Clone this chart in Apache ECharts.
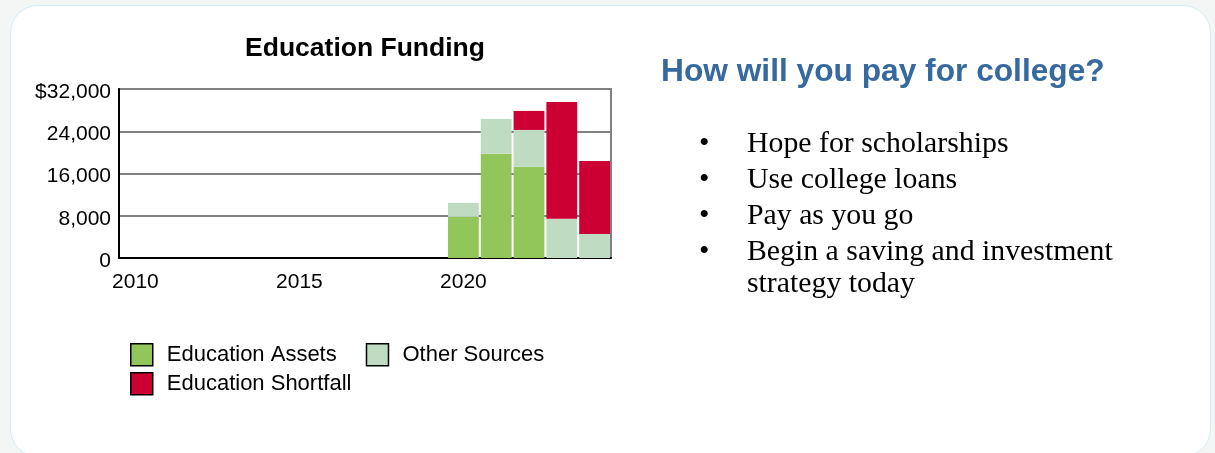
<!DOCTYPE html>
<html>
<head>
<meta charset="utf-8">
<script src="https://cdn.jsdelivr.net/npm/echarts@6/dist/echarts.min.js"></script>
<style>
  html, body { margin: 0; padding: 0; background: #f4f5f5; width: 1215px; height: 453px; overflow: hidden; }
  #card { position: absolute; left: 10px; top: 5px; width: 1199px; height: 450px; background: #fff;
          border: 1.5px solid #d3ebf6; border-radius: 28px; }
  #chart { position: absolute; left: 0; top: 0; width: 1215px; height: 453px; }
  #heading { position: absolute; left: 661px; top: 55px; font: bold 31.7px/31px "Liberation Sans", Arial, sans-serif;
             color: #36699d; white-space: nowrap; }
  #list { position: absolute; left: 747px; top: 126px; width: 400px; margin: 0; padding: 0; list-style: none;
          font: 29.8px/32px "Liberation Serif", "Times New Roman", serif; color: #000; }
  #list li { position: relative; margin: 0 0 4px 0; }
  #list li .b { position: absolute; left: -48px; top: 0; }
</style>
</head>
<body>
<div id="card"></div>
<div id="chart"></div>
<div id="heading">How will you pay for college?</div>
<ul id="list"></ul>
<script>
const years = ['2010','2011','2012','2013','2014','2015','2016','2017','2018','2019','2020','2021','2022','2023','2024'];
const educationAssets    = [null,null,null,null,null,null,null,null,null,null, 7800, 19750, 17300, null, null];
const otherSources       = [null,null,null,null,null,null,null,null,null,null, 2650,  6570,  6950, 7450, 4550];
const educationShortfall = [null,null,null,null,null,null,null,null,null,null, null,  null,  3600, 22100, 13800];
const seriesNames = ['Education Assets', 'Other Sources', 'Education Shortfall'];
const seriesColors = ['#92c65a', '#bfdcc2', '#cc0033'];
const bullets = ['Hope for scholarships', 'Use college loans', 'Pay as you go', 'Begin a saving and investment strategy today'];

const ul = document.getElementById('list');
bullets.forEach(t => {
  const li = document.createElement('li');
  const b = document.createElement('span');
  b.className = 'b';
  b.textContent = '•';
  li.appendChild(b);
  li.appendChild(document.createTextNode(t));
  ul.appendChild(li);
});

const font = '"Liberation Sans", Arial, sans-serif';
const chart = echarts.init(document.getElementById('chart'), null, { renderer: 'canvas' });
const legendCommon = {
  orient: 'horizontal', left: 125, itemWidth: 22, itemHeight: 22, itemGap: 29, icon: 'rect',
  itemStyle: { borderColor: '#000', borderWidth: 1.5 },
  textStyle: { fontFamily: font, fontSize: 22, color: '#000', padding: [0, 0, 0, 9] },
  selectedMode: false
};
chart.setOption({
  animation: false,
  textStyle: { fontFamily: font },
  title: {
    text: 'Education Funding', left: 360, top: 30,
    textStyle: { fontFamily: font, fontSize: 26.5, fontWeight: 'bold', color: '#000' },
    textAlign: 'center'
  },
  legend: [
    Object.assign({}, legendCommon, { top: 338, data: [seriesNames[0], seriesNames[1]] }),
    Object.assign({}, legendCommon, { top: 367, data: [seriesNames[2]] })
  ],
  grid: { left: 119, top: 89, width: 492, height: 169, show: true, borderColor: '#808080', borderWidth: 2, containLabel: false },
  xAxis: {
    type: 'category', data: years, boundaryGap: true,
    axisLine: { lineStyle: { color: '#000', width: 2 } },
    axisTick: { alignWithLabel: true, interval: 0, length: 5, lineStyle: { color: '#000', width: 2 } },
    axisLabel: { interval: 4, color: '#000', fontSize: 21, fontFamily: font, margin: 14 },
    splitLine: { show: false }
  },
  yAxis: {
    type: 'value', min: 0, max: 32000, interval: 8000,
    axisLine: { show: true, lineStyle: { color: '#000', width: 2 } },
    axisTick: { show: false },
    axisLabel: {
      color: '#000', fontSize: 21, fontFamily: font, margin: 8, lineHeight: 6, verticalAlign: 'top',
      formatter: v => (v === 32000 ? '$' : '') + v.toLocaleString('en-US')
    },
    splitLine: { lineStyle: { color: '#808080', width: 2 } }
  },
  series: [
    { name: seriesNames[0], type: 'bar', stack: 'f', data: educationAssets, itemStyle: { color: seriesColors[0] }, barCategoryGap: '6%' },
    { name: seriesNames[1], type: 'bar', stack: 'f', data: otherSources, itemStyle: { color: seriesColors[1] }, barCategoryGap: '6%' },
    { name: seriesNames[2], type: 'bar', stack: 'f', data: educationShortfall, itemStyle: { color: seriesColors[2] }, barCategoryGap: '6%' }
  ]
});
</script>
</body>
</html>
